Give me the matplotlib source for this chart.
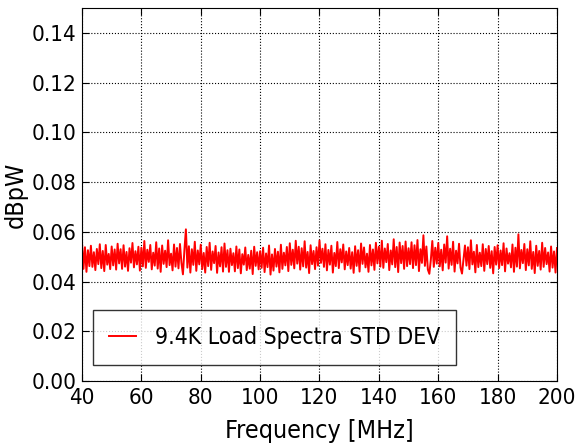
import matplotlib
matplotlib.use("Agg")
import matplotlib.pyplot as plt
import numpy as np

plt.rcParams['font.family'] = ['DejaVu Sans']
plt.rcParams['font.stretch'] = 'condensed'

# std dev of the 9.4K load spectra, in units of 1e-3 dBpW, every 0.5 MHz from 40 to 200
std_dev_milli = [
    55.6, 45.1, 53.8, 43.9, 52.6, 46.2, 54.4, 45.9, 51.8, 44.6, 53.1, 47.0, 55.0, 45.4, 52.3, 44.2, 54.7, 46.8, 51.1, 45.0,
    54.1, 46.5, 52.9, 44.8, 55.2, 47.3, 53.0, 45.1, 54.6, 46.0, 51.9, 44.3, 53.4, 47.6, 55.5, 45.7, 52.2, 46.9, 54.0, 44.4,
    53.6, 46.1, 56.3, 45.5, 52.8, 47.9, 54.7, 44.9, 51.6, 46.4, 55.8, 45.2, 53.3, 43.9, 54.5, 47.1, 52.4, 45.8, 56.6, 46.6,
    51.2, 44.5, 54.9, 46.0, 53.5, 45.3, 55.1, 47.5, 42.9, 52.7, 61.0, 45.6, 54.2, 43.6, 53.0, 46.7, 56.0, 44.3, 52.5, 46.9,
    54.8, 45.0, 51.5, 43.6, 53.9, 46.2, 55.6, 44.7, 52.1, 47.4, 54.3, 43.5, 51.7, 46.1, 53.8, 44.0, 55.3, 45.9, 52.6, 43.9,
    53.2, 46.6, 51.4, 44.1, 54.1, 45.4, 52.9, 43.3, 51.0, 46.8, 53.7, 44.6, 50.7, 45.2, 52.4, 43.0, 54.0, 46.3, 51.8, 44.9,
    52.2, 45.5, 53.6, 43.8, 51.3, 45.8, 54.5, 42.8, 50.9, 44.4, 53.1, 46.0, 52.0, 43.7, 54.8, 45.1, 51.6, 46.5, 53.9, 44.2,
    55.4, 46.7, 52.8, 45.3, 56.4, 47.2, 54.0, 44.8, 53.4, 46.1, 56.2, 45.6, 51.9, 43.4, 54.6, 47.0, 52.3, 45.0, 53.8, 46.4,
    56.5, 47.5, 53.2, 45.9, 55.0, 44.5, 52.7, 46.8, 54.4, 43.6, 51.5, 46.2, 55.9, 45.4, 53.0, 47.7, 54.9, 44.9, 52.1, 46.6,
    53.5, 45.2, 51.8, 43.5, 54.2, 46.3, 52.6, 44.0, 55.3, 47.1, 53.7, 45.7, 51.2, 43.9, 54.7, 46.5, 52.9, 44.7, 55.6, 47.3,
    54.0, 46.0, 56.4, 45.5, 53.3, 47.8, 55.1, 44.6, 52.5, 46.9, 57.0, 45.8, 53.9, 43.8, 55.7, 47.4, 54.3, 45.1, 56.1, 46.2,
    53.4, 47.0, 55.8, 45.4, 54.6, 46.6, 56.7, 44.2, 53.0, 47.5, 58.6, 46.3, 54.1, 44.8, 43.1, 48.7, 56.3, 45.9, 53.6, 47.2,
    55.5, 46.1, 52.8, 44.5, 54.9, 47.6, 58.2, 45.2, 53.2, 46.7, 56.0, 44.0, 52.4, 47.3, 55.2, 45.6, 43.2, 48.9, 54.5, 46.4,
    53.8, 45.0, 56.6, 46.9, 52.0, 43.7, 54.7, 45.8, 51.6, 46.2, 55.0, 44.3, 53.1, 47.0, 54.3, 45.5, 52.2, 43.3, 53.9, 46.8,
    54.6, 45.4, 52.5, 46.6, 55.4, 44.1, 53.3, 47.2, 51.4, 45.7, 54.9, 43.9, 53.6, 46.0, 59.0, 45.3, 52.7, 47.4, 55.1, 44.6,
    53.0, 46.5, 56.2, 45.1, 51.9, 43.4, 54.4, 46.3, 52.3, 44.8, 55.6, 45.9, 53.5, 47.0, 51.7, 44.0, 54.1, 45.6, 52.1, 43.6,
    53.5,
]
freq = np.arange(40, 200.25, 0.5)
std_dev = np.array(std_dev_milli) / 1000.0

fig = plt.figure(figsize=(5.75, 4.48), dpi=100)
ax = fig.add_axes([0.1426, 0.1496, 0.8261, 0.8324])

ax.plot(freq, std_dev, color='red', linewidth=1.4, label='9.4K Load Spectra STD DEV')

ax.set_xlim(40, 200)
ax.set_ylim(0, 0.15)
ax.set_xticks(np.arange(40, 201, 20))
ax.set_yticks(np.arange(0, 0.141, 0.02))
ax.set_yticklabels(['%.2f' % v for v in np.arange(0, 0.141, 0.02)])
ax.tick_params(direction='in', top=True, right=True, length=5, labelsize=16)
ax.tick_params(axis='x', pad=5)
ax.tick_params(axis='y', pad=4)
ax.grid(True, linestyle=':', color='black', linewidth=0.8)

ax.set_xlabel('Frequency [MHz]', fontsize=18, labelpad=8)
ax.set_ylabel('dBpW', fontsize=18, labelpad=3)

leg = ax.legend(loc='lower left', bbox_to_anchor=(0.023, 0.043), borderaxespad=0,
                fontsize=16.5, fancybox=False, handlelength=1.2, handletextpad=0.8,
                borderpad=0.7)
leg.get_frame().set_edgecolor('black')
leg.get_frame().set_linewidth(1.0)

fig.savefig('out.png', dpi=100)
